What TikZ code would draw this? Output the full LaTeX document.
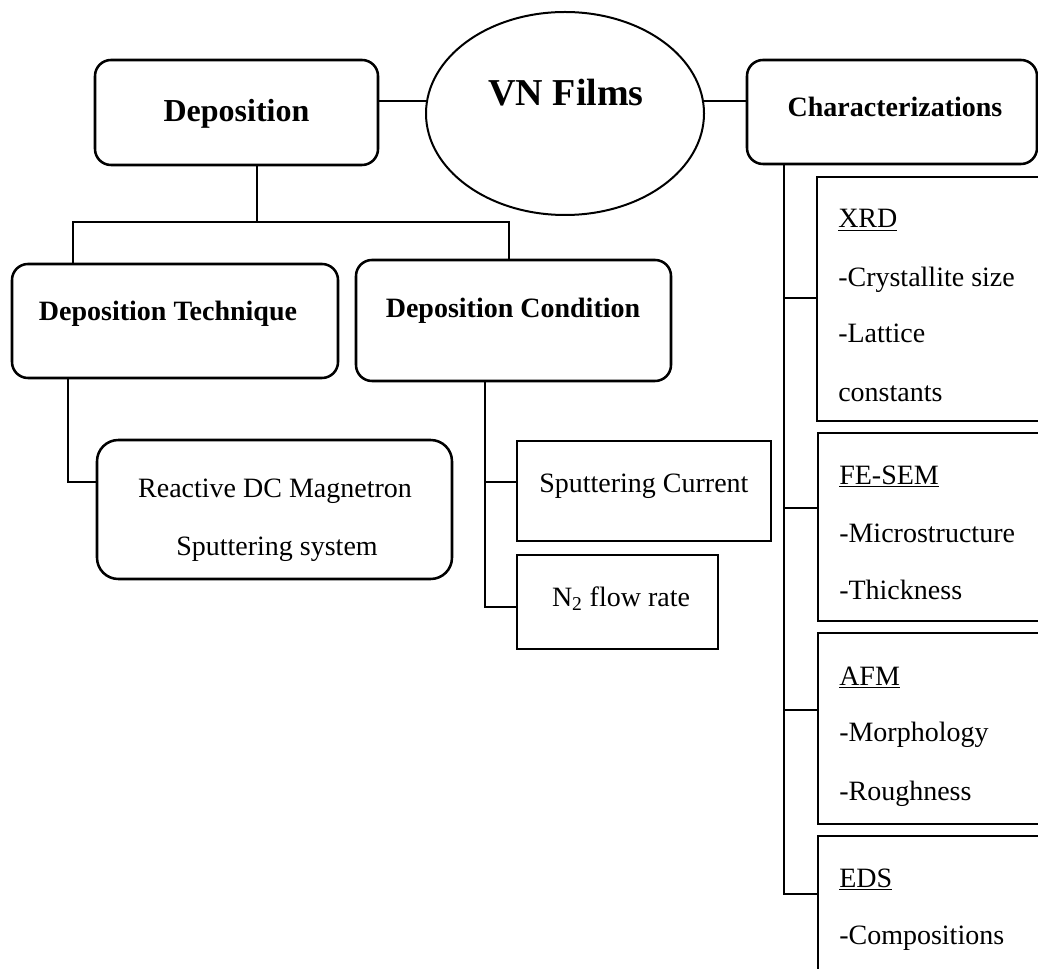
\documentclass[tikz,border=0pt]{standalone}
\usepackage{fontspec}
\setmainfont{Liberation Serif}
\usetikzlibrary{shapes.geometric,fit}
\begin{document}
\begin{tikzpicture}[x=0.75pt,y=-0.75pt,
  rbox/.style={draw, line width=1.9pt, rounded corners=12pt, rectangle, inner sep=0pt},
  sbox/.style={draw, line width=1.9pt, rectangle, inner sep=0pt},
  conn/.style={line width=1.5pt},
  thinconn/.style={line width=1.2pt},
  btxt/.style={font=\bfseries\fontsize{21}{25}\selectfont, inner sep=0pt, anchor=base},
  ntxt/.style={font=\fontsize{21}{25}\selectfont, inner sep=0pt, anchor=base},
  ltxt/.style={ntxt, anchor=base west}]
\useasboundingbox (0,0) rectangle (1038,969);
\clip (0,0) rectangle (1038,969);

% top row
\node[rbox, fit={(95,60) (378,165)}] (dep) {};
\node[draw, ellipse, line width=1.5pt, minimum width=278*0.75pt, minimum height=203*0.75pt, inner sep=0pt] (film) at (565,113.5) {};
\node[rbox, fit={(747,60) (1037,164)}] (chr) {};
\node[font=\bfseries\fontsize{24}{28}\selectfont, inner sep=0pt, anchor=base] (dep-t) at (236.5,122) {Deposition};
\node[font=\bfseries\fontsize{28.5}{32}\selectfont, inner sep=0pt, anchor=base] (film-t) at (566,106) {VN Films};
\node[btxt] (chr-t) at (895,117) {Characterizations};

% deposition branch
\node[rbox, fit={(12,264) (338,378)}] (dt) {};
\node[rbox, fit={(356,260) (671,381)}] (dc) {};
\node[rbox, rounded corners=16pt, fit={(97,440) (452,579)}] (rdc) {};
\node[sbox, fit={(517,441) (771,541)}] (sc) {};
\node[sbox, fit={(517,555) (718,649)}] (n2) {};
\node[btxt] (dt-t) at (168,321) {Deposition Technique};
\node[btxt] (dc-t) at (513,318) {Deposition Condition};
\node[ntxt] (rdc-t1) at (275,497) {Reactive DC Magnetron};
\node[ntxt] (rdc-t2) at (277,555) {Sputtering system};
\node[ltxt] (sc-t) at (539,492) {Sputtering Current};
\node[ntxt] (n2-t) at (621,606) {N\textsubscript{2} flow rate};

% characterization column
\node[sbox, fit={(817,177) (1060,421)}] (xrd) {};
\node[sbox, fit={(818,433) (1060,621)}] (fes) {};
\node[sbox, fit={(818,633) (1060,824)}] (afm) {};
\node[sbox, fit={(818,836) (1060,995)}] (eds) {};
\node[ltxt] (xrd-h) at (838,228) {\underline{XRD}};
\node[ltxt] (xrd-a) at (838,287) {-Crystallite size};
\node[ltxt] (xrd-b) at (838,343) {-Lattice};
\node[ltxt] (xrd-c) at (838,402) {constants};
\node[ltxt] (fes-h) at (839,484) {\underline{FE-SEM}};
\node[ltxt] (fes-a) at (839,542) {-Microstructure};
\node[ltxt] (fes-b) at (839,599) {-Thickness};
\node[ltxt] (afm-h) at (839,685) {\underline{AFM}};
\node[ltxt] (afm-a) at (839,741) {-Morphology};
\node[ltxt] (afm-b) at (839,800) {-Roughness};
\node[ltxt] (eds-h) at (839,887) {\underline{EDS}};
\node[ltxt] (eds-a) at (839,944) {-Compositions};

% connectors: top row
\draw[conn] (dep.east |- film.175) -- (film.175);
\draw[conn] (film.5) -- (film.5 -| chr.west);

% connectors: deposition tree
\coordinate (jd) at (257,222);
\coordinate (jl) at (73,222);
\coordinate (jr) at (509,222);
\draw[conn] (dep.south -| jd) -- (jd);
\draw[thinconn] (dt.north -| jl) -- (jl) -- (jr) -- (dc.north -| jr);
\coordinate (kt) at (68,482);
\draw[conn] (dt.south -| kt) -- (kt) -- (rdc.west |- kt);
\coordinate (kc1) at (485,482);
\coordinate (kc2) at (485,607);
\draw[conn] (dc.south -| kc1) -- (kc2) -- (n2.west |- kc2);
\draw[conn] (kc1) -- (sc.west |- kc1);

% connectors: characterization column
\coordinate (c1) at (784,298);
\coordinate (c2) at (784,508);
\coordinate (c3) at (784,710);
\coordinate (c4) at (784,894);
\draw[conn] (chr.south -| c1) -- (c4) -- (eds.west |- c4);
\draw[conn] (c1) -- (xrd.west |- c1);
\draw[conn] (c2) -- (fes.west |- c2);
\draw[conn] (c3) -- (afm.west |- c3);
\end{tikzpicture}
\end{document}
